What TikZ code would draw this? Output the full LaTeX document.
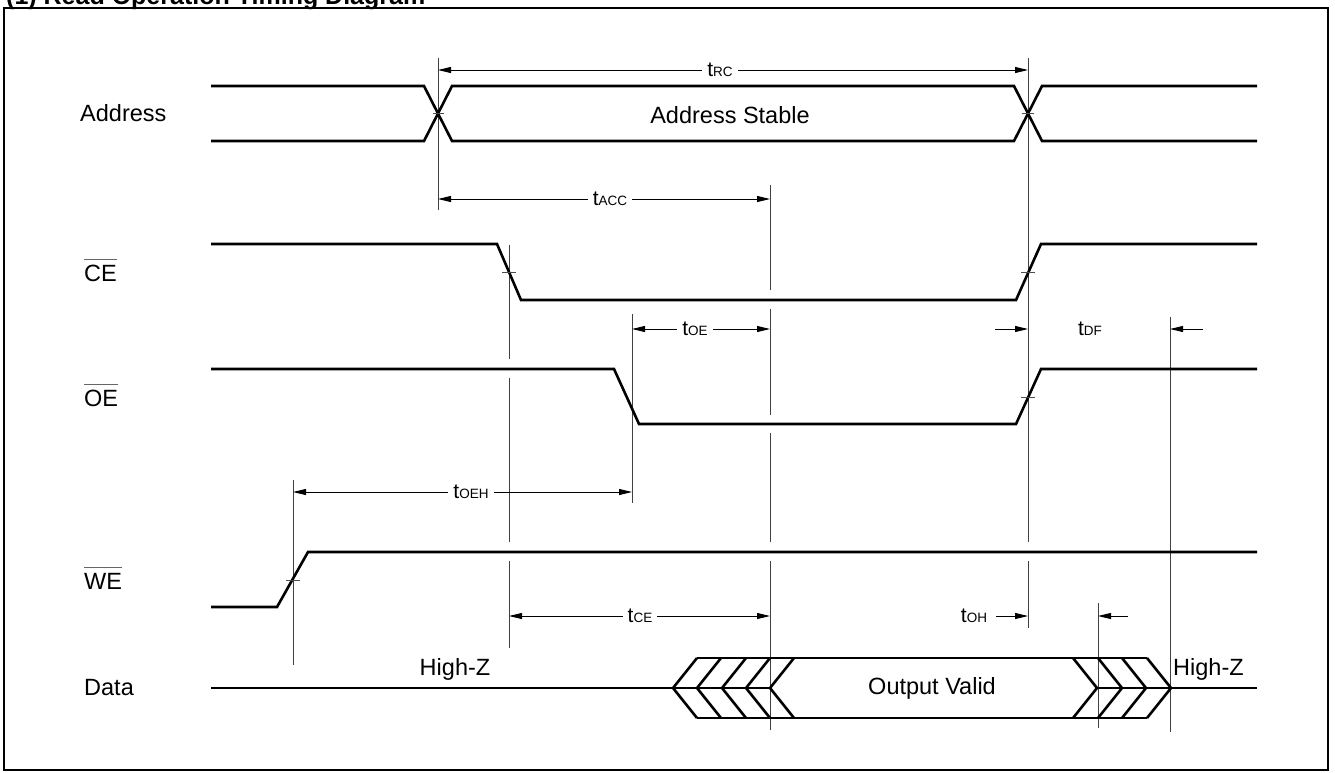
\documentclass[tikz,border=0pt]{standalone}
\usepackage{fontspec}
\setmainfont{Liberation Sans}
\usetikzlibrary{arrows.meta}
\newcommand\ovl[1]{\leavevmode\vbox{{\color{black!60}\hrule height 1.3pt}\kern 4.5pt\hbox{#1}}}
\newcommand\tsub[2]{#1{\fontsize{13.5}{15}\selectfont #2}}
\tikzset{
  sig/.style={line width=2.6pt, line join=miter},
  refl/.style={line width=0.9pt, draw=black!75},
  tickm/.style={line width=0.8pt, draw=black!70},
  dimarrow/.style={line width=0.9pt, {Triangle[length=13pt,width=6pt]}-{Triangle[length=13pt,width=6pt]}},
  onearrow/.style={line width=0.9pt, -{Triangle[length=13pt,width=6pt]}},
  lab/.style={font=\fontsize{23.5}{27}\selectfont, inner sep=0pt},
  tlab/.style={font=\fontsize{21}{24}\selectfont, fill=white, inner xsep=5pt, inner ysep=2pt},
}
\begin{document}
\begin{tikzpicture}[x=1pt,y=-1pt]
\useasboundingbox (0,0) rectangle (1335,772);
% title (cut off at top, as in the reference)
\node[anchor=base west, inner sep=0pt, font=\bfseries\fontsize{25}{30}\selectfont] (title) at (6,4) {(1) Read Operation Timing Diagram};
% frame
\draw[line width=1.8pt] (4,8) rectangle (1328,770);

% signal names
\node[lab, anchor=west] (nAddr) at (80,113) {Address};
\node[lab, anchor=base west] (nCE) at (84,281) {\ovl{CE}};
\node[lab, anchor=base west] (nOE) at (84,406) {\ovl{OE}};
\node[lab, anchor=base west] (nWE) at (84,589) {\ovl{WE}};
\node[lab, anchor=west] (nData) at (84,688) {Data};

% reference lines
\draw[refl] (438,58) -- (438,210);
\draw[refl] (1028,58) -- (1028,542) (1028,561) -- (1028,628);
\draw[refl] (770,185) -- (770,290) (770,309) -- (770,415) (770,433) -- (770,542) (770,561) -- (770,730);
\draw[refl] (509,245) -- (509,359) (509,378) -- (509,542) (509,561) -- (509,648);
\draw[refl] (632,314) -- (632,503);
\draw[refl] (293,480) -- (293,665);
\draw[refl] (1098,603) -- (1098,728);
\draw[refl] (1170,317) -- (1170,732);

% timing arrows
\draw[dimarrow] (438,70) -- (1028,70);
\node[tlab] (tRC) at (720,70) {\tsub{t}{RC}};
\draw[dimarrow] (438,199) -- (770,199);
\node[tlab] (tACC) at (610,199) {\tsub{t}{ACC}};
\draw[dimarrow] (632,329) -- (770,329);
\node[tlab] (tOE) at (695,329) {\tsub{t}{OE}};
\draw[onearrow] (995,329) -- (1028,329);
\draw[onearrow] (1203,329) -- (1170,329);
\node[tlab] (tDF) at (1090,329) {\tsub{t}{DF}};
\draw[dimarrow] (293,492) -- (632,492);
\node[tlab] (tOEH) at (471,492) {\tsub{t}{OEH}};
\draw[dimarrow] (509,616) -- (770,616);
\node[tlab] (tCE) at (640,616) {\tsub{t}{CE}};
\draw[onearrow] (996,616) -- (1028,616);
\draw[onearrow] (1128,616) -- (1098,616);
\node[tlab, fill=none] (tOH) at (974,616) {\tsub{t}{OH}};

% Address
\draw[sig] (211,86) -- (424,86) -- (452,141) -- (1014,141) -- (1042,86) -- (1257,86);
\draw[sig] (211,141) -- (424,141) -- (452,86) -- (1014,86) -- (1042,141) -- (1257,141);
\draw[tickm] (433,113.5) -- (444,113.5) (1022,113.5) -- (1034,113.5);
\node[lab] (stable) at (730,115) {Address Stable};

% CE
\draw[sig] (211,244) -- (497,244) -- (521,300) -- (1016,300) -- (1041,244) -- (1257,244);
\draw[tickm] (502,272) -- (516,272) (1021,272) -- (1035,272);
% OE
\draw[sig] (211,369) -- (614,369) -- (639,424) -- (1016,424) -- (1041,369) -- (1257,369);
\draw[tickm] (1021,397) -- (1035,397);
% WE
\draw[sig] (211,607) -- (277,607) -- (308,552) -- (1257,552);
\draw[tickm] (286,580) -- (300,580);

% Data
\draw[sig] (211,688) -- (770,688);
\draw[sig] (1098,688) -- (1257,688);
\draw[sig] (697,658) -- (1147,658);
\draw[sig] (697,718) -- (1147,718);
\foreach \p in {673,697,722,746,770}
  \draw[sig] (\p+24,658) -- (\p,688) -- (\p+24,718);
\foreach \p in {1073,1098,1122,1147}
  \draw[sig] (\p,658) -- (\p+24,688) -- (\p,718);
\node[lab, anchor=base] (hz1) at (455,675) {High-Z};
\node[lab, anchor=base west] (hz2) at (1173,675) {High-Z};
\node[lab] (valid) at (932,688) {Output Valid};
\end{tikzpicture}
\end{document}
